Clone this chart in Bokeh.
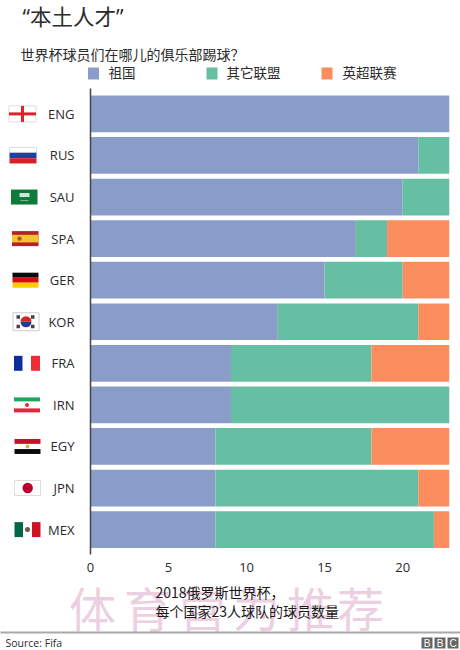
from bokeh.plotting import figure
from bokeh.models import Range1d, FixedTicker
from bokeh.core.properties import value
from bokeh.embed import file_html
from bokeh.resources import INLINE

codes = ["ENG", "RUS", "SAU", "SPA", "GER", "KOR", "FRA", "IRN", "EGY", "JPN", "MEX"]
home = [23, 21, 20, 17, 15, 12, 9, 9, 8, 8, 8]
other = [0, 2, 3, 2, 5, 9, 9, 14, 10, 13, 14]
premier = [0, 0, 0, 4, 3, 2, 5, 0, 5, 2, 1]
x_ticks = [0, 5, 10, 15, 20]
legend_names = ["祖国", "其它联盟", "英超联赛"]
colors = ["#8A9DC9", "#66BFA2", "#FC8D5E"]

CJK = "Noto Sans CJK SC"
LATIN = "Open Sans"
INK = "#2b2b2b"

# picture-pixel geometry of the plot frame
X0, X23, ROW0, ROW_H = 90.0, 449.0, 113.4, 41.57
TOP, BOTTOM = 88.0, 554.0
ux = (X23 - X0) / 23.0


def dx(px):
    return (px - X0) / ux


def dy(py):
    return (py - ROW0) / ROW_H


p = figure(
    width=460, height=650, output_backend="svg", toolbar_location=None,
    x_range=Range1d(0, 23), y_range=Range1d(dy(BOTTOM), dy(TOP)),
    min_border_left=int(X0), min_border_right=int(460 - X23),
    min_border_top=int(TOP), min_border_bottom=int(650 - BOTTOM),
    background_fill_color=None, border_fill_color="white", outline_line_color=None,
)
p.grid.visible = False

rows = list(range(len(codes)))
s1 = home
s2 = [a + b for a, b in zip(home, other)]
s3 = [a + b for a, b in zip(s2, premier)]
bar_h = 36.7 / ROW_H
p.hbar(y=rows, left=[0] * len(rows), right=s1, height=bar_h, color=colors[0], line_color=None)
p.hbar(y=rows, left=s1, right=s2, height=bar_h, color=colors[1], line_color=None)
p.hbar(y=rows, left=s2, right=s3, height=bar_h, color=colors[2], line_color=None)

xa = p.xaxis[0]
xa.ticker = FixedTicker(ticks=x_ticks)
xa.axis_line_color = None
xa.major_tick_line_color = None
xa.minor_tick_line_color = None
xa.major_label_standoff = 2
xa.major_label_text_font = LATIN
xa.major_label_text_font_size = "13px"
xa.major_label_text_color = INK

ya = p.yaxis[0]
ya.ticker = FixedTicker(ticks=rows)
ya.major_label_overrides = {i: c for i, c in enumerate(codes)}
ya.axis_line_color = "#444444"
ya.axis_line_width = 1.5
ya.major_tick_line_color = None
ya.minor_tick_line_color = None
ya.major_label_standoff = 10
ya.major_label_text_font = LATIN
ya.major_label_text_font_size = "13px"
ya.major_label_text_color = INK


def text(px, py, s, size, font=CJK, color=INK, align="left"):
    p.text(x=[dx(px)], y=[dy(py)], text=[s], text_font=value(font), text_font_size=f"{size}px",
           text_color=color, text_align=align, text_baseline="middle", level="overlay")


# ---- flags: (row, left px, right px, top offset, bottom offset, fill, border)
R, W = "#d9202a", "#ffffff"
flags = [
    (0, 8.5, 35.5, -8, 8, W, "#dddddd"), (0, 8.5, 35.5, -1.5, 1.5, "#e2202c", None), (0, 20.5, 23.5, -8, 8, "#e2202c", None),
    (1, 9, 36, -8, -2.7, W, "#dddddd"), (1, 9, 36, -2.7, 2.7, "#1c3fa8", None), (1, 9, 36, 2.7, 8, R, None),
    (2, 10.5, 37, -7.5, 7.5, "#0e7a3c", None), (2, 19, 29, -4, 0, "#cfe5d6", None), (2, 20, 28, 3, 4, "#7fbb96", None),
    (3, 11.5, 38, -7.5, 7.5, "#b5202a", None), (3, 11.5, 38, -3.8, 3.8, "#f4c430", None),
    (4, 12, 38, -7.5, -2.5, "#0a0a0a", None), (4, 12, 38, -2.5, 2.5, "#d30d0d", None), (4, 12, 38, 2.5, 7.5, "#ffcc00", None),
    (5, 12.5, 38.5, -9, 9, W, "#cccccc"), (5, 16, 19.5, -6.5, -3, "#444444", None), (5, 30.5, 34, -6.5, -3, "#444444", None),
    (5, 16, 19.5, 3, 6.5, "#444444", None), (5, 30.5, 34, 3, 6.5, "#444444", None),
    (6, 13.5, 22, -7.5, 7.5, "#0b2e9a", None), (6, 30.5, 39.5, -7.5, 7.5, "#ef2b36", None),
    (7, 13.5, 39.5, -7.5, -3.5, "#1ea561", None), (7, 13.5, 39.5, 3.5, 7.5, "#e0283c", None),
    (8, 14, 40, -7.5, -2.6, "#c8102e", None), (8, 14, 40, 2.6, 7.5, "#0a0a0a", None),
    (9, 14, 40, -7.5, 7.5, W, "#dddddd"),
    (10, 14, 22.5, -7.5, 7.5, "#006847", None), (10, 31.5, 40, -7.5, 7.5, "#ce1126", None),
]
p.quad(left=[dx(f[1]) for f in flags], right=[dx(f[2]) for f in flags],
       top=[f[0] + f[3] / ROW_H for f in flags], bottom=[f[0] + f[4] / ROW_H for f in flags],
       fill_color=[f[5] for f in flags], line_color=[f[6] for f in flags],
       line_width=1, level="overlay")
# round emblems: (row, centre px, radius px, colour, start angle, end angle)
PI = 3.14159265
dots = [(5, 25.5, 5.5, "#1c3f94", PI, 2 * PI), (5, 25.5, 5.5, "#d9202a", 0, PI),
        (7, 26.5, 2, "#e0283c", 0, 2 * PI), (8, 27, 2, "#d9b24c", 0, 2 * PI),
        (9, 27.2, 5.2, "#bc002d", 0, 2 * PI), (10, 27, 2.5, "#6a5a48", 0, 2 * PI),
        (3, 19, 2.2, "#a8562a", 0, 2 * PI)]
p.wedge(x=[dx(d[1]) for d in dots], y=[d[0] for d in dots], radius=[d[2] for d in dots], radius_units="screen",
        start_angle=[d[4] for d in dots], end_angle=[d[5] for d in dots], direction="anticlock",
        color=[d[3] for d in dots], line_color=None, level="overlay")

# ---- watermark behind the caption
for cx, ch in zip([92, 147, 202, 256, 310, 360], "体育营为推荐"):
    text(cx, 606, ch, 47, color="#ecd0e2", align="center")

# ---- rule + footer
p.segment(x0=[dx(0)], x1=[dx(460)], y0=[dy(632)], y1=[dy(632)], line_color="#a9a9a9",
          line_width=2, level="overlay")
text(5, 642, "Source: Fifa", 10.5, font=LATIN)
for bx, ch in zip([421, 434, 447], "BBC"):
    p.quad(left=[dx(bx)], right=[dx(bx + 11)], top=[dy(637)], bottom=[dy(648)],
           color="#666666", line_color=None, level="overlay")
    text(bx + 5.5, 642.5, ch, 10, font="Liberation Sans", color="white", align="center")

# ---- headings
text(22, 16, "“本土人才”", 21.5, font="Open Sans, Noto Sans CJK SC")
text(20, 53, "世界杯球员们在哪儿的俱乐部踢球？", 14)

# ---- legend
for (sx, tx), name, col in zip([(87.5, 108), (206, 226), (321, 342)], legend_names, colors):
    p.quad(left=[dx(sx)], right=[dx(sx + 11)], top=[dy(67)], bottom=[dy(79)], color=col,
           line_color=None, level="overlay")
    text(tx, 71, name, 13.5)

# ---- caption
text(155, 591, "2018俄罗斯世界杯，", 14, color="#1a1a1a")
text(155, 610, "每个国家23人球队的球员数量", 14, color="#1a1a1a")

open("out.html", "w").write(file_html(p, INLINE))
